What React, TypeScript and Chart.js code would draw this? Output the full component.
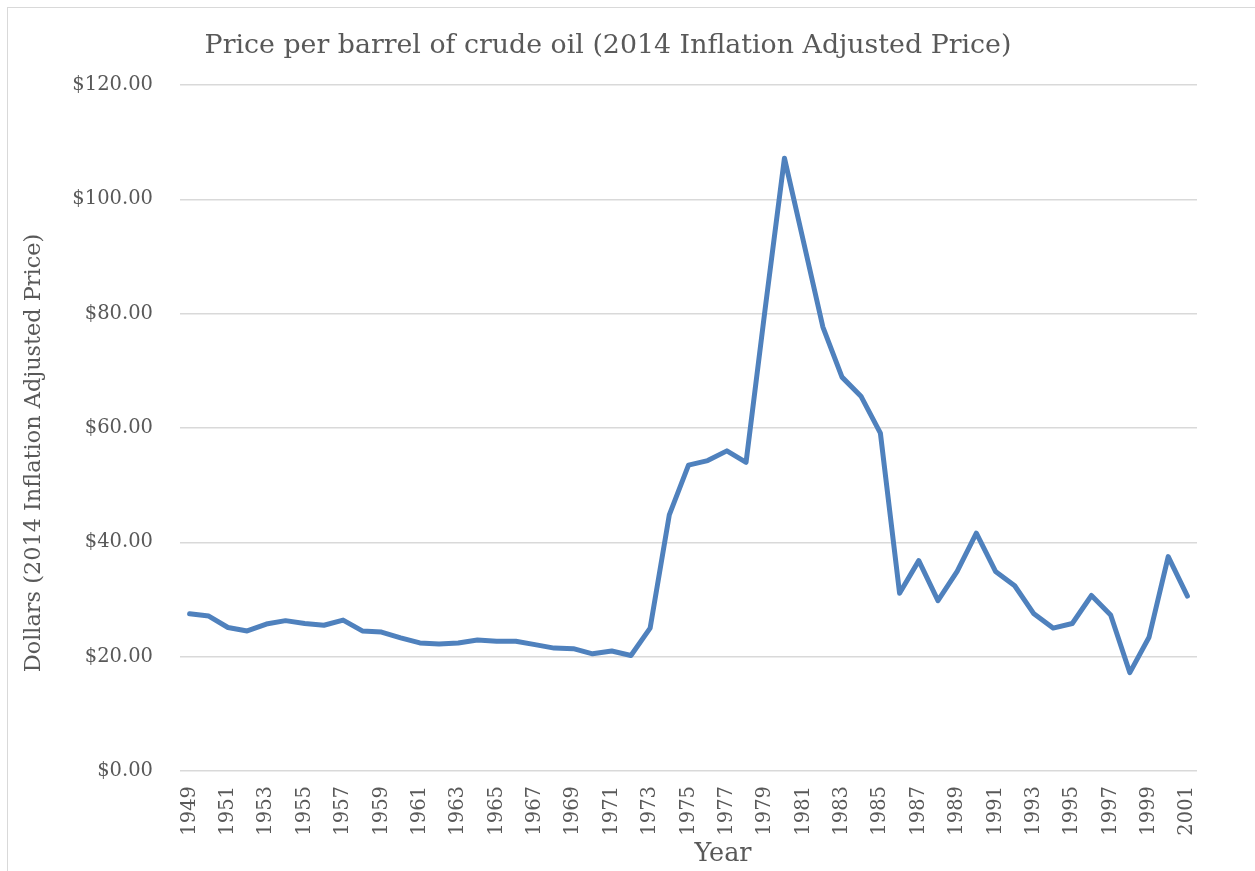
import React, { useEffect, useRef } from 'react';
import { Chart, registerables } from 'chart.js';

Chart.register(...registerables);

const years = [
  '1949', '1950', '1951', '1952', '1953', '1954', '1955', '1956', '1957', '1958',
  '1959', '1960', '1961', '1962', '1963', '1964', '1965', '1966', '1967', '1968',
  '1969', '1970', '1971', '1972', '1973', '1974', '1975', '1976', '1977', '1978',
  '1979', '1980', '1981', '1982', '1983', '1984', '1985', '1986', '1987', '1988',
  '1989', '1990', '1991', '1992', '1993', '1994', '1995', '1996', '1997', '1998',
  '1999', '2000', '2001',
];

const prices = [
  27.5, 27.1, 25.1, 24.5, 25.7, 26.3, 25.8, 25.5, 26.4, 24.5,
  24.3, 23.3, 22.4, 22.2, 22.4, 22.9, 22.7, 22.7, 22.1, 21.5,
  21.4, 20.5, 21.0, 20.2, 25.0, 44.8, 53.5, 54.3, 56.0, 54.0,
  81.0, 107.2, 92.5, 77.7, 68.9, 65.5, 59.1, 31.1, 36.8, 29.8,
  34.9, 41.6, 34.9, 32.4, 27.5, 25.0, 25.8, 30.7, 27.3, 17.2,
  23.4, 37.5, 30.6,
];

const chartTitle = 'Price per barrel of crude oil (2014 Inflation Adjusted Price)';
const xTitle = 'Year';
const yTitle = 'Dollars (2014 Inflation Adjusted Price)';
const yMin = 0;
const yMax = 120;
const yStep = 20;

const TEXT = '#595959';
const GRID = '#d9d9d9';
const LINE = '#4f81bd';
const FONT = "'DejaVu Serif', serif";

const titlesPlugin = {
  id: 'customTitles',
  afterDraw(chart: any) {
    const ctx = chart.ctx;
    ctx.save();
    ctx.fillStyle = TEXT;
    ctx.textAlign = 'center';
    ctx.textBaseline = 'middle';
    ctx.font = `26.8px ${FONT}`;
    ctx.fillText(chartTitle, 608, 46);
    ctx.font = `25.5px ${FONT}`;
    ctx.fillText(xTitle, 723, 854);
    ctx.translate(34, 453);
    ctx.rotate(-Math.PI / 2);
    ctx.font = `22.4px ${FONT}`;
    ctx.fillText(yTitle, 0, 0);
    ctx.restore();
  },
};

export default function App() {
  const canvasRef = useRef<HTMLCanvasElement | null>(null);

  useEffect(() => {
    const canvas = canvasRef.current;
    if (!canvas) return;
    const chart = new Chart(canvas, {
      type: 'line',
      data: {
        labels: years,
        datasets: [
          {
            data: prices,
            borderColor: LINE,
            borderWidth: 5,
            pointRadius: 0,
            tension: 0,
            fill: false,
            borderJoinStyle: 'round',
            borderCapStyle: 'round',
          },
        ],
      },
      options: {
        responsive: false,
        animation: false,
        devicePixelRatio: 1,
        layout: { padding: { left: 0, top: 85, right: 58, bottom: 0 } },
        plugins: {
          legend: { display: false },
          title: { display: false },
          tooltip: { enabled: false },
        },
        scales: {
          x: {
            type: 'category',
            offset: true,
            grid: { display: false, drawTicks: false },
            border: { display: false },
            ticks: {
              autoSkip: false,
              maxRotation: 90,
              minRotation: 90,
              padding: 15,
              color: TEXT,
              font: { family: FONT, size: 19.5 },
              callback: (_v: any, i: number) => (i % 2 === 0 ? years[i] : ''),
            },
            afterFit: (s: any) => {
              s.height = 100;
            },
          },
          y: {
            min: yMin,
            max: yMax,
            grid: { color: GRID, lineWidth: 1.5, drawTicks: false },
            border: { display: false },
            ticks: {
              stepSize: yStep,
              padding: 27,
              color: TEXT,
              font: { family: FONT, size: 19.5 },
              callback: (v: any) => '$' + Number(v).toFixed(2),
            },
            afterFit: (s: any) => {
              s.width = 180;
            },
          },
        },
      },
      plugins: [titlesPlugin],
    });
    return () => chart.destroy();
  }, []);

  return (
    <div
      style={{
        position: 'absolute',
        left: 0,
        top: 0,
        width: 1255,
        height: 871,
        overflow: 'hidden',
        background: '#fff',
      }}
    >
      <div
        style={{
          position: 'absolute',
          left: 7,
          top: 7,
          width: 1300,
          height: 900,
          border: `1px solid ${GRID}`,
        }}
      />
      <canvas
        ref={canvasRef}
        width={1255}
        height={871}
        style={{ position: 'absolute', left: 0, top: 0, width: 1255, height: 871 }}
      />
    </div>
  );
}
